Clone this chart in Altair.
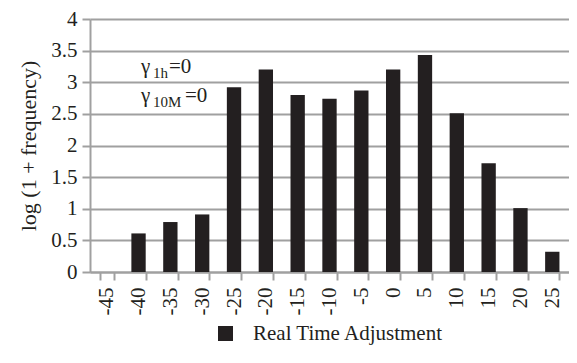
import altair as alt
import pandas as pd

categories = ["-45", "-40", "-35", "-30", "-25", "-20", "-15", "-10", "-5",
              "0", "5", "10", "15", "20", "25"]
values = [0, 0.61, 0.79, 0.91, 2.92, 3.20, 2.80, 2.74, 2.87, 3.20, 3.43,
          2.51, 1.72, 1.01, 0.32]
series = "Real Time Adjustment"
y_ticks = [0, 0.5, 1, 1.5, 2, 2.5, 3, 3.5, 4]

df = pd.DataFrame({"cat": categories, "val": values, "series": [series] * len(categories)})

FONT = "Liberation Serif"
INK = "#231f20"
GRID = "#a0a0a0"

bars = alt.Chart(df).mark_bar(stroke=None).encode(
    x=alt.X("cat:O", sort=categories,
            scale=alt.Scale(paddingInner=0.55, paddingOuter=0.3),
            axis=alt.Axis(title=None, labelAngle=-90, tickBand="extent",
                          labelFont=FONT, labelFontSize=21, labelColor=INK,
                          domainColor=GRID, domainWidth=2, tickColor=GRID,
                          tickWidth=2, tickSize=8, labelPadding=7, grid=False)),
    y=alt.Y("val:Q", scale=alt.Scale(domain=[0, 4], nice=False),
            axis=alt.Axis(title="log (1 + frequency)", values=y_ticks, format="~g",
                          labelFont=FONT, labelFontSize=21, labelColor=INK,
                          titleFont=FONT, titleFontSize=22, titleFontWeight="normal",
                          titleColor=INK, titlePadding=10,
                          domainColor=GRID, domainWidth=2, tickColor=GRID,
                          tickWidth=2, tickSize=8, labelPadding=5,
                          grid=True, gridColor=GRID, gridWidth=2)),
    color=alt.Color("series:N", scale=alt.Scale(range=[INK]),
                    legend=alt.Legend(title=None, orient="none", legendX=125, legendY=304,
                                      symbolType="square", symbolSize=225,
                                      symbolStrokeWidth=0, labelLimit=0,
                                      labelFont=FONT, labelFontSize=21, labelColor=INK,
                                      labelOffset=17)),
)

ann_df = pd.DataFrame({"a": [1]})


def txt(s, x, y, size):
    return alt.Chart(ann_df).mark_text(
        text=s, align="left", baseline="alphabetic", font=FONT, fontSize=size, color=INK
    ).encode(x=alt.value(x), y=alt.value(y))


layers = [
    txt("γ", 51, 54, 21), txt("1h", 63, 59, 15), txt("=0", 79, 54, 21),
    txt("γ", 51, 83, 21), txt("10M", 63, 88, 15), txt("=0", 95, 83, 21),
]

chart = alt.layer(bars, *layers).properties(
    width=479, height=253,
    autosize=alt.AutoSizeParams(type="none"),
    padding={"left": 82, "top": 11, "right": 0, "bottom": 77},
    background="white",
).configure_view(stroke=None)

chart.save("out.html", embed_options={"renderer": "svg", "actions": False})
